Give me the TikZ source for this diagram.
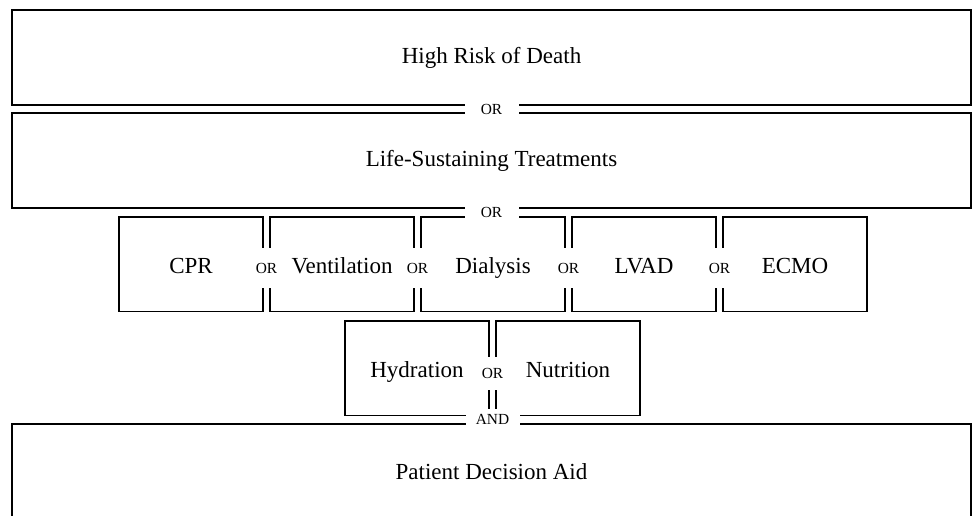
\documentclass[tikz,border=0pt]{standalone}
\usepackage{fontspec}
\setmainfont{Liberation Serif}
\usetikzlibrary{positioning,calc}

\begin{document}
\begin{tikzpicture}[
    x = 0.5pt, y = -0.5pt,
    node distance = 4pt,
    every node/.style = {align=center, inner sep=0pt, outer sep=0pt},
    bandbox/.style = {draw, line width=0.9pt, minimum width=479.5pt, minimum height=47.5pt,
      font=\fontsize{11.5}{14}\selectfont},
    cellbox/.style = {draw, line width=0.9pt, minimum width=72pt, minimum height=47.25pt,
      text height=10pt, text depth=1pt, font=\fontsize{11.5}{14}\selectfont},
    gatelabel/.style = {fill=white, minimum width=27pt, minimum height=11pt,
      font=\fontsize{7.7}{9}\selectfont},
    vgatelabel/.style = {fill=white, minimum width=10pt, minimum height=20pt,
      font=\fontsize{7.7}{9}\selectfont}
  ]
  \path[use as bounding box, clip] (0,0) rectangle (972,515);

  % bands
  \node[bandbox] (risk) at (491.5,57.5) {High Risk of Death};
  \node[bandbox, below=of risk] (treat) {Life-Sustaining Treatments};

  % treatments
  \node[cellbox, anchor=north west] (cpr) at (119,217) {CPR};
  \node[cellbox, right=3.5pt of cpr] (vent) {Ventilation};
  \node[cellbox, right=3.5pt of vent] (dial) {Dialysis};
  \node[cellbox, right=3.5pt of dial] (lvad) {LVAD};
  \node[cellbox, right=3.5pt of lvad] (ecmo) {ECMO};

  \node[cellbox, anchor=north west] (hyd) at (345,321) {Hydration};
  \node[cellbox, right=3.5pt of hyd] (nutr) {Nutrition};

  \node[bandbox, anchor=north] (aid) at (491.5,424) {Patient Decision Aid};

  % operators
  \node[gatelabel] (or-risk) at ($(risk.south)!0.5!(treat.north)$) {OR};
  \node[gatelabel] (or-treat) at ($(treat.south)!0.5!(treat.south |- dial.north)$) {OR};
  \foreach \a/\b in {cpr/vent, vent/dial, dial/lvad, lvad/ecmo}
    \node[vgatelabel, yshift=-2pt] (or-\a) at ($(\a.east)!0.5!(\b.west)$) {OR};
  \node[vgatelabel, minimum height=16.5pt, yshift=-2.5pt] (or-hyd) at ($(hyd.east)!0.5!(nutr.west)$) {OR};
  \node[gatelabel] (and) at ($(hyd.south east)!0.5!(nutr.south west) + (0,4)$) {AND};

\end{tikzpicture}
\end{document}
